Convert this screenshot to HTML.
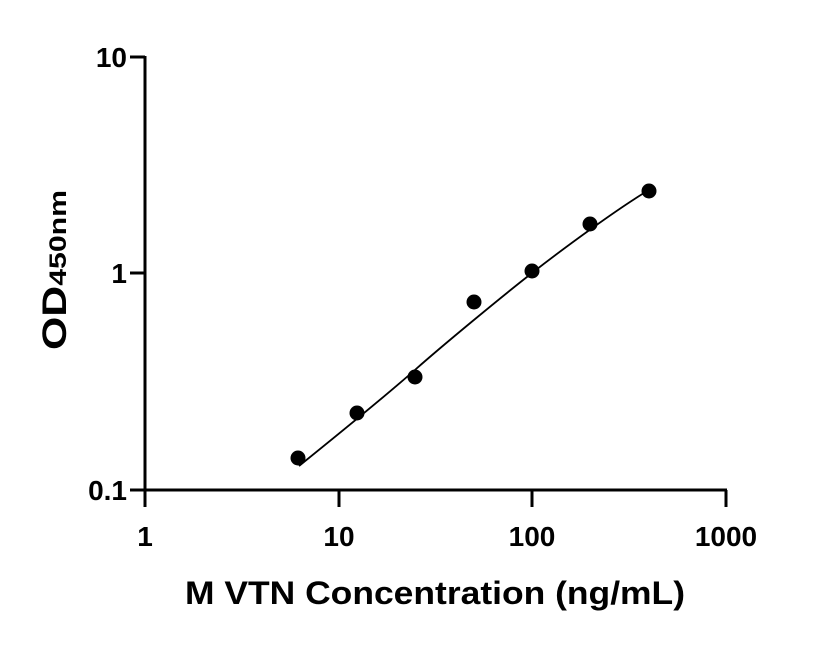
<!DOCTYPE html>
<html><head><style>body{margin:0;background:#fff}</style></head><body>
<svg width="816" height="640" xmlns="http://www.w3.org/2000/svg" font-family="Liberation Sans, sans-serif" font-weight="bold">
<g stroke="#000" stroke-width="3" fill="none">
<line x1="145" y1="56" x2="145" y2="491"/>
<line x1="144" y1="490" x2="727" y2="490"/>
<line x1="130" y1="57" x2="145" y2="57"/>
<line x1="130" y1="273" x2="145" y2="273"/>
<line x1="130" y1="490" x2="145" y2="490"/>
<line x1="145" y1="490" x2="145" y2="507"/>
<line x1="339" y1="490" x2="339" y2="507"/>
<line x1="532" y1="490" x2="532" y2="507"/>
<line x1="726" y1="490" x2="726" y2="507"/>
</g>
<g font-size="28" text-anchor="end">
<text x="127" y="67">10</text>
<text x="127" y="283">1</text>
<text x="127" y="500">0.1</text>
</g>
<g font-size="28" text-anchor="middle">
<text x="145" y="546">1</text>
<text x="339" y="546">10</text>
<text x="532" y="546">100</text>
<text x="726" y="546">1000</text>
</g>
<text x="185" y="604" font-size="32" textLength="500" lengthAdjust="spacingAndGlyphs">M VTN Concentration (ng/mL)</text>
<text transform="translate(66,350) rotate(-90)" textLength="160" lengthAdjust="spacingAndGlyphs"><tspan font-size="34">OD</tspan><tspan font-size="24">450nm</tspan></text>
<path d="M299,466 C330,441 390,392 416,369 S500,298 532,273 S620,207 649,190" stroke="#000" stroke-width="1.8" fill="none"/>
<g fill="#000">
<circle cx="298" cy="458" r="7.5"/>
<circle cx="357" cy="413" r="7.5"/>
<circle cx="415" cy="377" r="7.5"/>
<circle cx="474" cy="302" r="7.5"/>
<circle cx="532" cy="271" r="7.5"/>
<circle cx="590" cy="224" r="7.5"/>
<circle cx="649" cy="191" r="7.5"/>
</g>
</svg>
</body></html>
